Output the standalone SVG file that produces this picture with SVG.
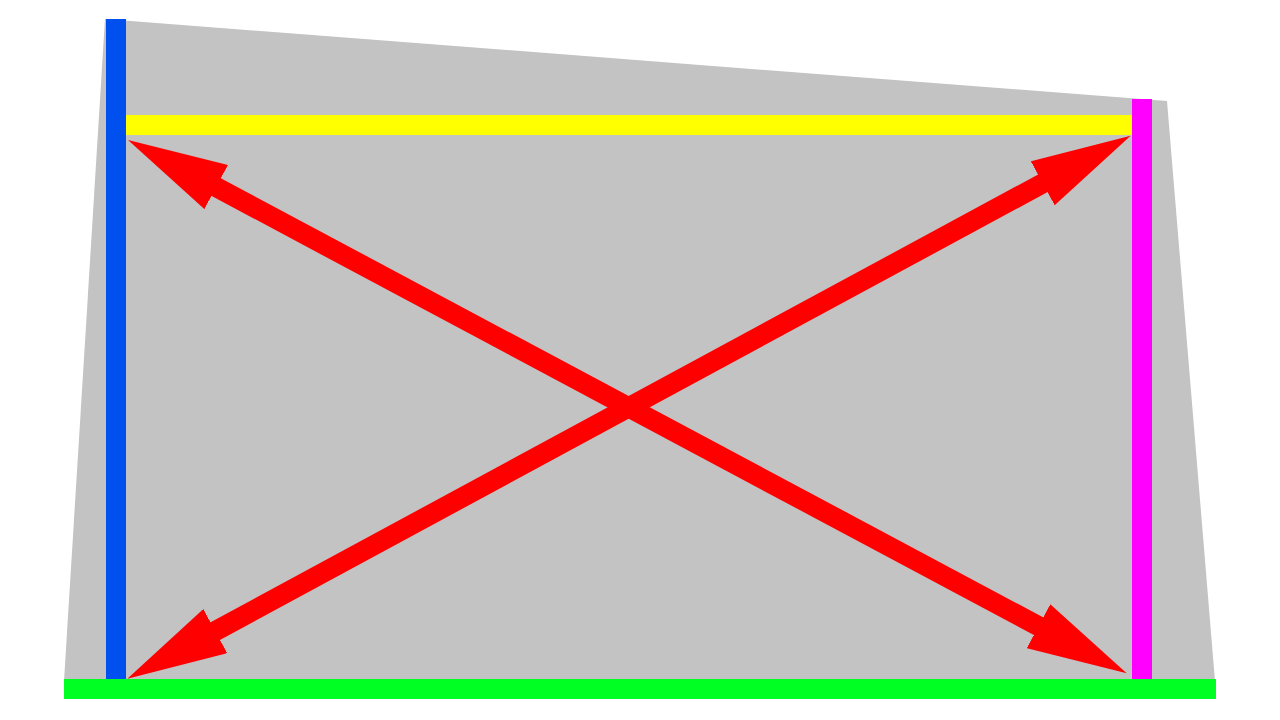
<svg xmlns="http://www.w3.org/2000/svg" width="1280" height="720" viewBox="0 0 1280 720">
  <defs>
    <style>
      .bar { stroke: none; }
      .arrow { fill: none; stroke: #ff0000; stroke-width: 20; stroke-linecap: butt; marker-start: url(#head); marker-end: url(#head); }
    </style>
    <marker id="head" viewBox="0 0 100 50" refX="50" refY="25" markerWidth="100" markerHeight="50" markerUnits="userSpaceOnUse" orient="auto-start-reverse">
      <path d="M0,0 L100,25 L0,50 Z" fill="#ff0000"/>
    </marker>
  </defs>
  <rect width="1280" height="720" fill="#ffffff"/>
  <g id="background">
    <polygon points="105,19 1167,101 1215,681 64,681" fill="#c3c3c3"/>
  </g>
  <g id="left-wall">
    <rect class="bar" x="106" y="19" width="20" height="660" fill="#0050ef"/>
  </g>
  <g id="top-bar">
    <rect class="bar" x="126" y="115" width="1006" height="20" fill="#ffff00"/>
  </g>
  <g id="right-wall">
    <rect class="bar" x="1132" y="99" width="20" height="580" fill="#ff00ff"/>
  </g>
  <g id="floor">
    <rect class="bar" x="64" y="679" width="1152" height="20" fill="#00ff22"/>
  </g>
  <g id="connectors">
    <path class="arrow" d="M172.1,163.55 L1082.6,649.75"/>
    <path class="arrow" d="M171.3,654.9 L1086.7,159.5"/>
  </g>
</svg>
